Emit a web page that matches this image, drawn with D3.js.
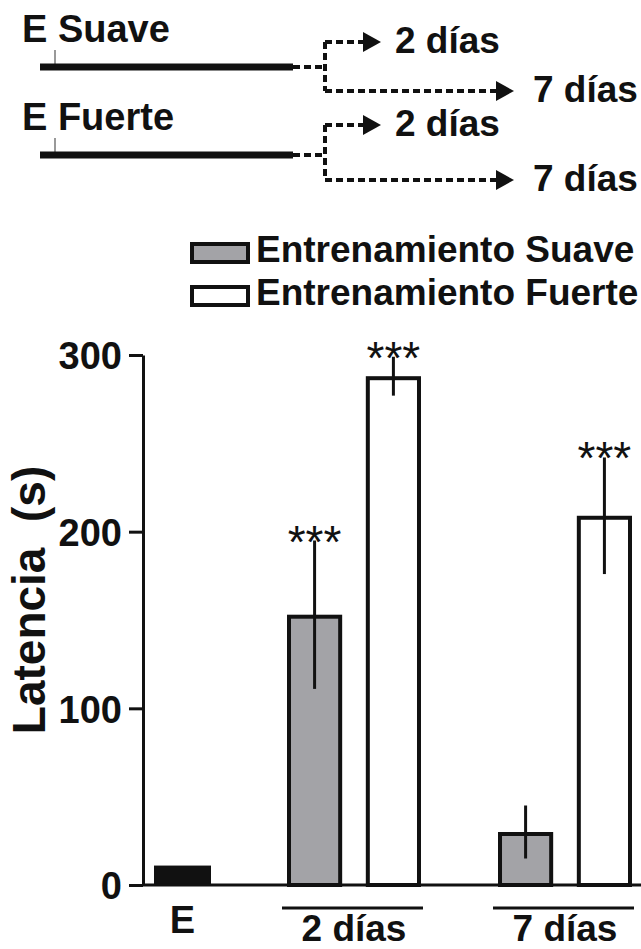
<!DOCTYPE html>
<meta charset="utf-8">
<style>

  body {
    margin: 0;
    background: #fff;
  }

  text {
    font-family: "Liberation Sans", Arial, sans-serif;
    font-weight: bold;
    fill: #111;
  }

  .axis path,
  .axis line {
    stroke: #111;
    stroke-width: 3;
  }

  .axis text {
    font-size: 38px;
  }

  .stars {
    font-weight: normal;
    font-size: 46px;
    text-anchor: middle;
  }

</style>
<svg width="641" height="949"></svg>
<script src="https://d3js.org/d3.v7.min.js"></script>
<script>

// data
var groups = ["2 días", "7 días"];
var series = ["Entrenamiento Suave", "Entrenamiento Fuerte"];
var controlLabel = "E";
var controlMean = 11;
var suaveMean = [153, 30];
var suaveErr = [42, 15];
var fuerteMean = [288, 209];
var fuerteErr = [11, 33];
var suaveSig = ["***", ""];
var fuerteSig = ["***", "***"];
var yTicks = [0, 100, 200, 300];
var protocols = ["E Suave", "E Fuerte"];
var retention = ["2 días", "7 días"];

var colorkey = ["#a3a3a7", "#ffffff"];

var svg = d3.select("svg");

var data = [];
groups.forEach(function(g, i) {
  data.push({group: g, key: series[0], mean: suaveMean[i], err: suaveErr[i], sig: suaveSig[i]});
  data.push({group: g, key: series[1], mean: fuerteMean[i], err: fuerteErr[i], sig: fuerteSig[i]});
});

var y = d3.scaleLinear()
    .domain([0, 300])
    .range([885, 355]);

var x0 = d3.scaleBand()
    .domain(groups)
    .range([287, 632])
    .paddingInner(0.365);

var x1 = d3.scaleBand()
    .domain(series)
    .range([0, x0.bandwidth()])
    .paddingInner(0.3);

var xE = d3.scaleBand()
    .domain([controlLabel])
    .range([154, 211]);

var z = d3.scaleOrdinal()
    .domain(series)
    .range(colorkey);

// ---- protocol diagram ----
var diag = svg.append("g").attr("class", "diagram");

var rowTop = [42, 130],
    lineY = [67, 155],
    upY = [42, 125],
    downY = [91, 180];

var dash = "7,4";

protocols.forEach(function(p, i) {
  diag.append("text")
      .attr("x", 22)
      .attr("y", rowTop[i])
      .style("font-size", "38px")
      .text(p);

  diag.append("line")
      .attr("x1", 55).attr("x2", 55)
      .attr("y1", lineY[i] - 17).attr("y2", lineY[i])
      .attr("stroke", "#555")
      .attr("stroke-width", 1.2);

  diag.append("line")
      .attr("x1", 40).attr("x2", 293)
      .attr("y1", lineY[i]).attr("y2", lineY[i])
      .attr("stroke", "#111")
      .attr("stroke-width", 7);

  diag.append("line")
      .attr("x1", 293).attr("x2", 325)
      .attr("y1", lineY[i]).attr("y2", lineY[i])
      .attr("stroke", "#111").attr("stroke-width", 4)
      .attr("stroke-dasharray", dash);

  diag.append("line")
      .attr("x1", 325).attr("x2", 325)
      .attr("y1", upY[i]).attr("y2", downY[i])
      .attr("stroke", "#111").attr("stroke-width", 4)
      .attr("stroke-dasharray", dash);

  var tips = [381, 514],
      ys = [upY[i], downY[i]],
      tx = [395, 533];

  retention.forEach(function(r, j) {
    diag.append("line")
        .attr("x1", 325).attr("x2", tips[j] - 16)
        .attr("y1", ys[j]).attr("y2", ys[j])
        .attr("stroke", "#111").attr("stroke-width", 4)
        .attr("stroke-dasharray", dash);

    diag.append("path")
        .attr("d", "M" + (tips[j] - 18) + "," + (ys[j] - 10) + "L" + tips[j] + "," + ys[j] + "L" + (tips[j] - 18) + "," + (ys[j] + 10) + "Z")
        .attr("fill", "#111");

    diag.append("text")
        .attr("x", tx[j])
        .attr("y", ys[j] + 11)
        .style("font-size", "37px")
        .text(r);
  });
});

// ---- legend ----
var legend = svg.append("g")
    .attr("class", "legend")
  .selectAll("g")
  .data(series)
  .enter().append("g")
    .attr("transform", function(d, i) { return "translate(190," + (242 + i * 43) + ")"; });

legend.append("rect")
    .attr("x", 2)
    .attr("y", 2)
    .attr("width", 56)
    .attr("height", 18)
    .attr("fill", function(d) { return z(d); })
    .attr("stroke", "#111")
    .attr("stroke-width", 4);

legend.append("text")
    .attr("x", 66)
    .attr("y", 20)
    .style("font-size", "37px")
    .text(function(d) { return d; });

// ---- bars ----
svg.append("rect")
    .attr("x", xE(controlLabel))
    .attr("y", y(controlMean))
    .attr("width", xE.bandwidth())
    .attr("height", y(0) - y(controlMean))
    .attr("fill", "#111");

var bar = svg.append("g")
  .selectAll("g")
  .data(data)
  .enter().append("g")
    .attr("transform", function(d) { return "translate(" + (x0(d.group) + x1(d.key)) + ",0)"; });

bar.append("rect")
    .attr("x", 2)
    .attr("y", function(d) { return y(d.mean) + 2; })
    .attr("width", x1.bandwidth() - 4)
    .attr("height", function(d) { return y(0) - y(d.mean) - 2; })
    .attr("fill", function(d) { return z(d.key); })
    .attr("stroke", "#111")
    .attr("stroke-width", 4);

bar.append("line")
    .attr("x1", x1.bandwidth() / 2)
    .attr("x2", x1.bandwidth() / 2)
    .attr("y1", function(d) { return y(d.mean - d.err); })
    .attr("y2", function(d) { return y(d.mean + d.err); })
    .attr("stroke", "#111")
    .attr("stroke-width", 3);

bar.append("text")
    .attr("class", "stars")
    .attr("x", x1.bandwidth() / 2)
    .attr("y", function(d) { return y(d.mean + d.err) + 17; })
    .text(function(d) { return d.sig; });

// ---- axes ----
svg.append("line")
    .attr("x1", 143).attr("x2", 641)
    .attr("y1", y(0)).attr("y2", y(0))
    .attr("stroke", "#111")
    .attr("stroke-width", 3);

svg.append("g")
    .attr("class", "axis")
    .attr("transform", "translate(143,0)")
    .call(d3.axisLeft(y).tickValues(yTicks).tickSize(14).tickSizeOuter(0).tickPadding(7))
    .call(function(g) { g.selectAll("text").attr("fill", "#111").attr("dy", "0.36em"); });

svg.append("text")
    .attr("transform", "translate(45,600) rotate(-90)")
    .attr("text-anchor", "middle")
    .style("font-size", "46px")
    .style("white-space", "pre")
    .text("Latencia  (s)");

// group labels under the x axis
svg.append("text")
    .attr("x", xE(controlLabel) + xE.bandwidth() / 2)
    .attr("y", 933)
    .attr("text-anchor", "middle")
    .style("font-size", "38px")
    .text(controlLabel);

var glab = svg.append("g")
  .selectAll("g")
  .data(groups)
  .enter().append("g");

glab.append("line")
    .attr("x1", function(d) { return x0(d) - 5; })
    .attr("x2", function(d) { return x0(d) + x0.bandwidth() + 2; })
    .attr("y1", 908).attr("y2", 908)
    .attr("stroke", "#111")
    .attr("stroke-width", 3);

glab.append("text")
    .attr("x", function(d) { return x0(d) + x0.bandwidth() / 2; })
    .attr("y", 941)
    .attr("text-anchor", "middle")
    .style("font-size", "37px")
    .text(function(d) { return d; });

</script>
